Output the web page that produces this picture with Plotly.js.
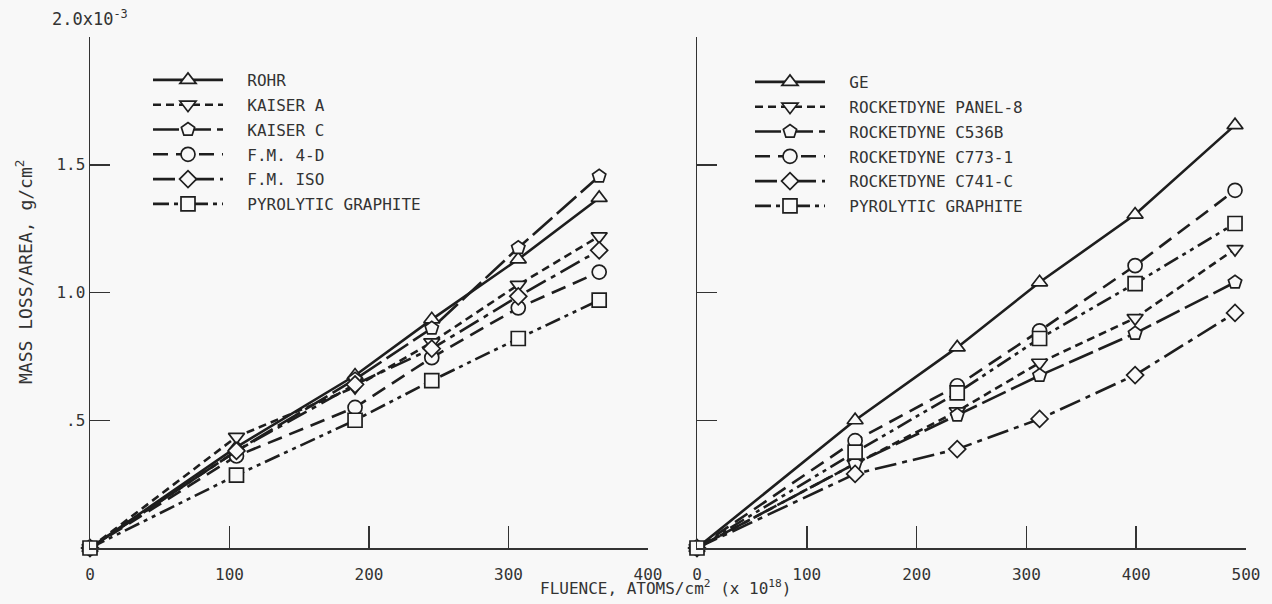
<!DOCTYPE html>
<html><head><meta charset="utf-8">
<script src="https://cdn.plot.ly/plotly-3.0.1.min.js"></script>
<style>html,body{margin:0;padding:0;background:#f8f8f8}</style>
</head><body><div id="chart" style="width:1272px;height:604px"></div>
<script>
// ---- data (mass loss per area in units of 1e-3 g/cm^2) ----
const leftFluence = [0, 105, 190, 245, 307, 365];
const rohr     = [0, 0.395, 0.675, 0.895, 1.13, 1.37];
const kaiserA  = [0, 0.435, 0.63, 0.805, 1.03, 1.22];
const kaiserC  = [0, 0.38, 0.66, 0.86, 1.175, 1.455];
const fm4d     = [0, 0.36, 0.55, 0.745, 0.94, 1.08];
const fmIso    = [0, 0.38, 0.64, 0.78, 0.985, 1.165];
const pgLeft   = [0, 0.285, 0.50, 0.655, 0.82, 0.97];

const rightFluence = [0, 144, 237, 312, 399, 490];
const ge       = [0, 0.50, 0.785, 1.04, 1.305, 1.655];
const panel8   = [0, 0.33, 0.535, 0.725, 0.90, 1.17];
const c536b    = [0, 0.33, 0.52, 0.675, 0.84, 1.04];
const c773     = [0, 0.42, 0.635, 0.85, 1.105, 1.40];
const c741     = [0, 0.29, 0.387, 0.505, 0.677, 0.92];
const pgRight  = [0, 0.375, 0.607, 0.82, 1.035, 1.27];

const leftNames  = ['ROHR', 'KAISER A', 'KAISER C', 'F.M. 4-D', 'F.M. ISO', 'PYROLYTIC GRAPHITE'];
const rightNames = ['GE', 'ROCKETDYNE PANEL-8', 'ROCKETDYNE C536B', 'ROCKETDYNE C773-1', 'ROCKETDYNE C741-C', 'PYROLYTIC GRAPHITE'];
const xTicksLeft  = [0, 100, 200, 300, 400];
const xTicksRight = [0, 100, 200, 300, 400, 500];
const yTickVals = [0.5, 1.0, 1.5, 2.0];
const yTickText = ['.5', '1.0', '1.5', ''];

// ---- styles ----
const BG = '#f8f8f8', INK = '#1e1e1e', AX = '#333';
const FONT = 'DejaVu Sans Mono, monospace';
const symbols = ['triangle-up', 'triangle-down', 'pentagon', 'circle', 'diamond', 'square'];
const sizes   = [14, 14, 14, 14, 13, 14];
const dashes  = ['solid', '8px,5px', '26px,6px', '15px,8px', '22px,6px,5px,6px', '16px,5px,4px,5px,4px,5px'];

function mk(x, y, i, name, xa, ya, leg) {
  return {
    type: 'scatter', mode: 'lines+markers', x: x, y: y,
    name: '\u00a0\u00a0' + name, xaxis: xa, yaxis: ya, legend: leg,
    legendgroup: leg + i, cliponaxis: false,
    line: {color: INK, width: 2.6, dash: dashes[i]},
    marker: {symbol: symbols[i], size: sizes[i], color: BG, line: {color: INK, width: 1.7}}
  };
}
const leftSeries = [rohr, kaiserA, kaiserC, fm4d, fmIso, pgLeft];
const rightSeries = [ge, panel8, c536b, c773, c741, pgRight];
const data = [];
leftSeries.forEach((s, i) => data.push(mk(leftFluence, s, i, leftNames[i], 'x', 'y', 'legend')));
rightSeries.forEach((s, i) => data.push(mk(rightFluence, s, i, rightNames[i], 'x2', 'y2', 'legend2')));

const W = 1272, H = 604;
const yDom = [56 / H, 567 / H];
function xax(dom, range, ticks, anchor) {
  return {domain: dom, range: range, anchor: anchor, tickvals: ticks,
    showline: true, linecolor: AX, linewidth: 1.5, ticks: 'inside', ticklen: 22,
    tickwidth: 1.5, tickcolor: AX, showgrid: false, zeroline: false,
    ticklabelstandoff: 11,
    tickfont: {family: FONT, size: 16, color: AX}, fixedrange: true};
}
function yax(anchor, labels) {
  return {domain: yDom, range: [0, 2.0], anchor: anchor, tickvals: yTickVals,
    ticktext: yTickText, showticklabels: labels,
    showline: true, linecolor: AX, linewidth: 1.5, ticks: 'inside', ticklen: 20,
    tickwidth: 1.5, tickcolor: AX, showgrid: false, zeroline: false,
    tickfont: {family: FONT, size: 16, color: AX}, fixedrange: true};
}
const legendCommon = {
  font: {family: FONT, size: 16, color: AX}, bgcolor: 'rgba(0,0,0,0)',
  itemwidth: 70, traceorder: 'grouped', tracegroupgap: 1,
  xanchor: 'left', yanchor: 'top', itemclick: false, itemdoubleclick: false
};
const layout = {
  width: W, height: H, paper_bgcolor: BG, plot_bgcolor: BG,
  margin: {l: 0, r: 0, t: 0, b: 0}, showlegend: true,
  font: {family: FONT, color: AX},
  xaxis: xax([90 / W, 648 / W], [0, 400], xTicksLeft, 'y'),
  yaxis: yax('x', true),
  xaxis2: xax([697 / W, 1246 / W], [0, 500], xTicksRight, 'y2'),
  yaxis2: yax('x2', false),
  legend: Object.assign({}, legendCommon, {x: 148 / W, y: 1 - 63 / H}),
  legend2: Object.assign({}, legendCommon, {x: 750 / W, y: 1 - 65 / H}),
  annotations: [
    {xref: 'x', yref: 'y', x: 0, y: 2.0, yanchor: 'bottom', xanchor: 'center', yshift: 6,
     text: '2.0x10<sup>-3</sup>', showarrow: false, font: {family: FONT, size: 17, color: AX}},
    {xref: 'paper', yref: 'paper', x: 10 / W, y: 1 - 272 / H, textangle: -90,
     text: 'MASS LOSS/AREA, g/cm<sup>2</sup>', showarrow: false,
     font: {family: FONT, size: 18, color: AX}},
    {xref: 'paper', yref: 'paper', x: 665 / W, y: 1 - 600 / H,
     text: 'FLUENCE, ATOMS/cm<sup>2</sup> (x 10<sup>18</sup>)', showarrow: false,
     font: {family: FONT, size: 16, color: AX}}
  ]
};
Plotly.newPlot('chart', data, layout, {displayModeBar: false, staticPlot: true});
</script></body></html>
